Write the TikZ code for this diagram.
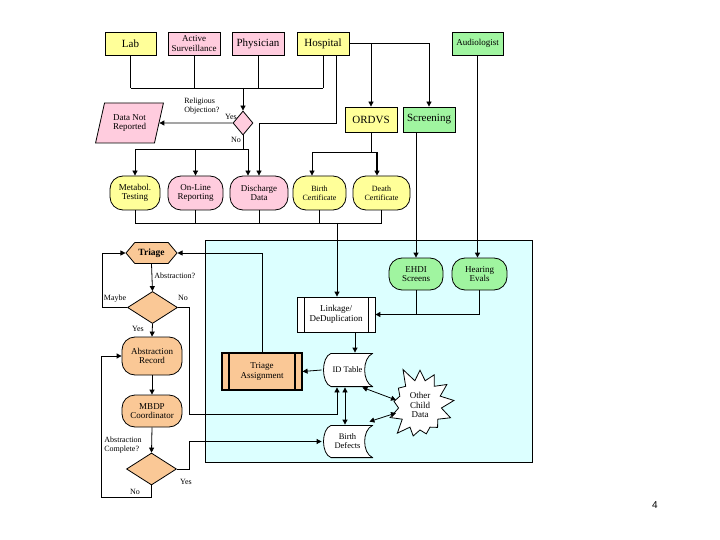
\documentclass[tikz,border=0pt]{standalone}
\usepackage{fontspec}
\setmainfont{Liberation Serif}
\setsansfont{Liberation Sans}
\usetikzlibrary{shapes.geometric,shapes.symbols,arrows.meta}
\definecolor{ylw}{RGB}{255,255,153}
\definecolor{pnk}{RGB}{255,204,222}
\definecolor{grn}{RGB}{160,245,160}
\definecolor{org}{RGB}{250,200,150}
\definecolor{cyn}{RGB}{220,255,255}

\begin{document}
\begin{tikzpicture}[x=1pt, y=-1pt, line width=0.8pt,
  >={Triangle[length=5pt,width=5pt]},
  every node/.style = {align=center, inner sep=1pt, font=\fontsize{9}{9.5}\selectfont},
  box/.style = {draw, rectangle, minimum height=23pt},
  oval/.style = {draw, rectangle, rounded corners=13pt, minimum height=34pt},
  dia/.style = {draw, diamond, fill=org, minimum width=50pt, minimum height=32pt, inner sep=0pt},
  predef/.style = {draw, rectangle, path picture={
      \draw ([xshift=7pt]path picture bounding box.north west) -- ([xshift=7pt]path picture bounding box.south west)
            ([xshift=-7pt]path picture bounding box.north east) -- ([xshift=-7pt]path picture bounding box.south east);}},
  stored/.style = {minimum width=51pt, minimum height=34pt, font=\fontsize{8.5}{9}\selectfont, path picture={
      \filldraw[fill=white]
        ([xshift=9pt,yshift=-.4pt]path picture bounding box.north west)
        -- ([xshift=-.4pt,yshift=-.4pt]path picture bounding box.north east)
        .. controls ([xshift=-11pt,yshift=-5pt]path picture bounding box.north east)
           and ([xshift=-11pt,yshift=5pt]path picture bounding box.south east)
        .. ([xshift=-.4pt,yshift=.4pt]path picture bounding box.south east)
        -- ([xshift=9pt,yshift=.4pt]path picture bounding box.south west)
        .. controls ([xshift=-1pt,yshift=4pt]path picture bounding box.south west)
           and ([xshift=-1pt,yshift=-4pt]path picture bounding box.north west)
        .. ([xshift=9pt,yshift=-.4pt]path picture bounding box.north west)
        -- cycle;}},
  lbl/.style = {inner sep=0pt, font=\fontsize{8}{9}\selectfont},
  big/.style = {font=\fontsize{11}{11}\selectfont},
  sml/.style = {font=\fontsize{8}{9}\selectfont},
  thk/.style = {line width=1.6pt}
  ]
  \useasboundingbox (0,0) rectangle (720,540);
  \filldraw[fill=cyn] (205,240) rectangle (532,462);

  \node[box, fill=ylw, minimum width=51pt, big] (lab) at (130.5,43.5) {Lab};
  \node[box, fill=pnk, minimum width=52pt, inner sep=0pt] (asurv) at (194,43.5) {Active\\Surveillance};
  \node[box, fill=pnk, minimum width=52pt, big] (phys) at (258,43.5) {Physician};
  \node[box, fill=ylw, minimum width=52pt, big] (hosp) at (323,43.5) {Hospital};
  \node[box, fill=grn, minimum width=51pt] (audio) at (477.5,43.5) {Audiologist};
  \node[box, fill=ylw, minimum width=52pt, minimum height=25pt, big] (ordvs) at (371,119.5) {ORDVS};
  \node[box, fill=grn, minimum width=52pt, minimum height=25pt, big] (screen) at (429,119.5) {Screening};

  \node[dia, fill=pnk, minimum width=20pt, minimum height=24pt] (relig) at (243,123) {};
  \node[draw, trapezium, trapezium left angle=72, trapezium right angle=108, trapezium stretches=true,
    fill=pnk, minimum width=68pt, minimum height=40pt] (datanr) at (129.5,123) {Data Not\\Reported};
  \node[lbl, anchor=west, align=left] (qrel) at (184,106) {Religious\\Objection?};
  \node[lbl] (yes1) at (231,117) {Yes};
  \node[lbl] (no1) at (236,140) {No};

  \node[oval, fill=ylw, minimum width=50pt] (metab) at (135,193) {Metabol.\\Testing};
  \node[oval, fill=pnk, minimum width=55pt] (online) at (195.5,193) {On-Line\\Reporting};
  \node[oval, fill=pnk, minimum width=58pt] (disch) at (259,193) {Discharge\\Data};
  \node[oval, fill=ylw, minimum width=53pt, sml] (birth) at (319.5,193) {Birth\\Certificate};
  \node[oval, fill=ylw, minimum width=57pt, sml] (death) at (381.5,193) {Death\\Certificate};

  \node[oval, fill=grn, minimum width=54pt, minimum height=32pt] (ehdi) at (416,274) {EHDI\\Screens};
  \node[oval, fill=grn, minimum width=55pt, minimum height=32pt] (hearing) at (479.5,274) {Hearing\\Evals};
  \node[predef, fill=white, minimum width=78pt, minimum height=35pt] (link) at (336,314.5) {Linkage/\\DeDuplication};
  \node[stored] (idtab) at (347.5,370) {ID Table};
  \node[predef, fill=org, line width=1.2pt, minimum width=80pt, minimum height=37pt] (tassign) at (262,371.5) {Triage\\Assignment};
  \node[stored, minimum height=33pt] (bdef) at (347.5,441.5) {Birth\\Defects};
  \node[draw, fill=white, starburst, starburst points=13, starburst point height=16pt, random starburst=5,
    inner sep=5pt] (other) at (420,405) {Other\\Child\\Data};

  \node[draw, fill=org, signal, signal to=east and west, signal pointer angle=100,
    minimum width=51pt, minimum height=21pt, font=\bfseries\fontsize{9.5}{9.5}\selectfont] (triage) at (151.5,253) {Triage};
  \node[dia] (ab1) at (152.5,307.5) {};
  \node[oval, fill=org, minimum width=60pt, minimum height=38pt] (abrec) at (152,356) {Abstraction\\Record};
  \node[oval, fill=org, minimum width=60pt, minimum height=32pt] (mbdp) at (152,411) {MBDP\\Coordinator};
  \node[dia] (ab2) at (151.5,469) {};
  \node[lbl, anchor=west] (qabs) at (154,276) {Abstraction?};
  \node[lbl] (maybe) at (115,299) {Maybe};
  \node[lbl] (no2) at (183,298) {No};
  \node[lbl] (yes2) at (138,329) {Yes};
  \node[lbl, anchor=west, align=left] (qcomp) at (104,445) {Abstraction\\Complete?};
  \node[lbl] (no3) at (135,492) {No};
  \node[lbl] (yes3) at (186,482) {Yes};
  \node[font=\sffamily\fontsize{10}{10}\selectfont] (pnum) at (655,505) {4};

  \coordinate (bus1) at (243,88);
  \foreach \n in {lab,asurv,phys,hosp}
    \draw (\n.south) -- (\n.south |- bus1);
  \draw (lab.south |- bus1) -- (hosp.south |- bus1);
  \draw[->] (bus1) -- (relig.north);
  \draw[->] ([xshift=13pt]hosp.south) -- ++(0,68) -| (disch.north);
  \draw[->] (ordvs.north |- hosp.east) -- (ordvs.north);
  \draw[->] (hosp.east) -| (screen.north);
  \draw[->] (relig.west) -- (datanr.east);
  \draw (relig.south) -- ++(0,14) coordinate (bus2);
  \draw (metab.north |- bus2) -- ([xshift=-11pt]disch.north |- bus2);
  \draw[->] (metab.north |- bus2) -- (metab.north);
  \draw[->] (online.north |- bus2) -- (online.north);
  \draw[->] ([xshift=-11pt]disch.north |- bus2) -- ([xshift=-11pt]disch.north);
  \draw (ordvs.south) -- ++(0,20) coordinate (bus4);
  \draw[->] (bus4) -| ([xshift=-7.5pt]birth.north);
  \draw[->, thk] (bus4) -| ([xshift=-4.5pt]death.north);

  \coordinate (bus3) at (337,223);
  \foreach \n in {metab,online,disch,birth}
    \draw (\n.south) -- (\n.south |- bus3);
  \draw[thk] (death.south) -- (death.south |- bus3);
  \draw (metab.south |- bus3) -- (death.south |- bus3);
  \draw[->] (bus3) -- (bus3 |- link.north);
  \draw[->] (ehdi.north |- screen.south) -- (ehdi.north);
  \draw[->, thk] (audio.south) -- (audio.south |- hearing.north);
  \draw (ehdi.south) -- (ehdi.south |- link.east);
  \draw[->, thk] (hearing.south) |- (link.east);
  \draw[->] ([xshift=19pt]link.south) -- ([xshift=19pt]link.south |- idtab.north);
  \draw[->] (idtab.west) -- (tassign.east);
  \draw[<->] ([xshift=-2.5pt]idtab.south) -- ([xshift=-2.5pt]bdef.north);
  \draw[<->] ([xshift=-11pt]idtab.south east) -- ([yshift=5pt]other.west);
  \draw[<->] ([xshift=-4pt,yshift=3pt]bdef.north east) -- ([yshift=-8pt]other.west);

  \draw[->] (tassign.north) |- (triage.east);
  \draw[->] (triage.south) -- (ab1.north);
  \draw[->] (ab1.west) -- ++(-25,0) |- (triage.west);
  \draw[->] (ab1.east) -| (189,414) -| ([xshift=-10.5pt]idtab.south);
  \draw[->] (ab1.south) -- (abrec.north);
  \draw[->] (abrec.south) -- (mbdp.north);
  \draw[->] (mbdp.south) -- (ab2.north);
  \draw[->] (ab2.south) -- ++(0,12) -- ++(-50,0) |- (abrec.west);
  \draw[->] (ab2.east) -- ++(12,0) |- (bdef.west);
\end{tikzpicture}
\end{document}
